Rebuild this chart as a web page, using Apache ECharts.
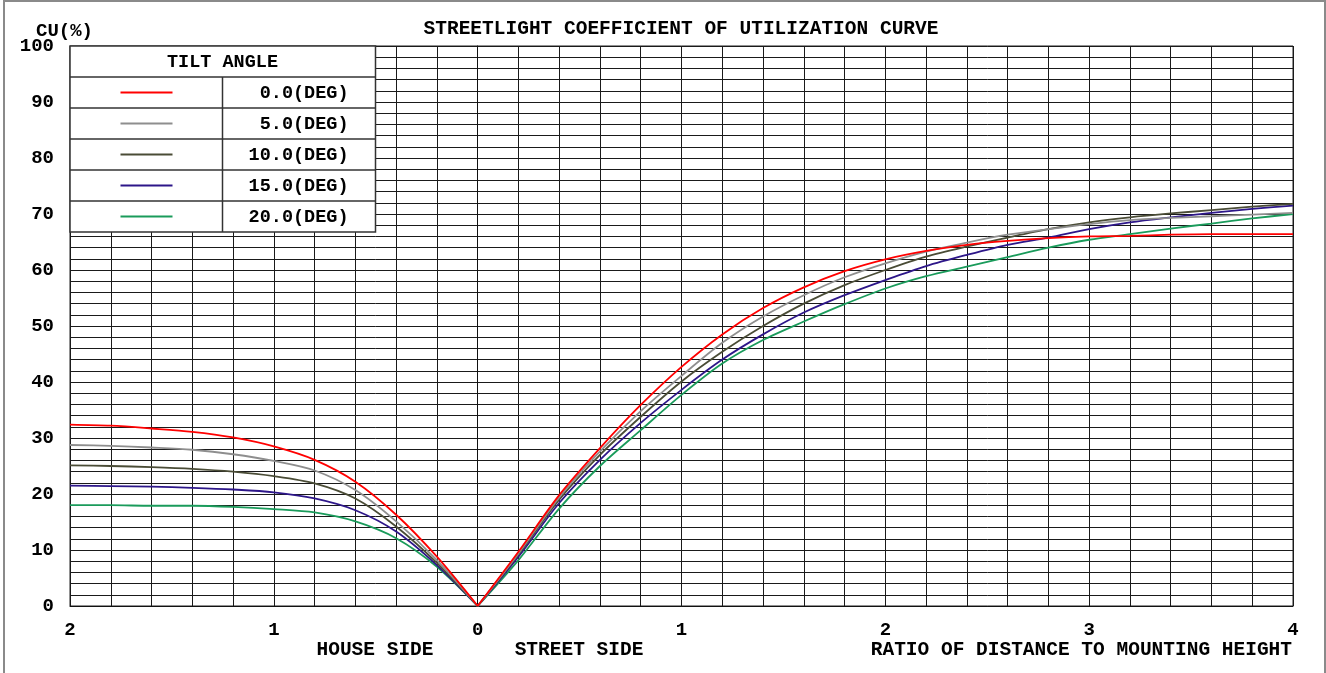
<!DOCTYPE html>
<html>
<head>
<meta charset="utf-8">
<script src="https://cdn.jsdelivr.net/npm/echarts@6/dist/echarts.min.js"></script>
<style>
html,body{margin:0;padding:0;background:#fff;}
#chart{width:1326px;height:673px;}
</style>
</head>
<body>
<div id="chart"></div>
<script>
// Ratio of distance to mounting height (negative = house side)
var xValues = [-2,-1.8,-1.6,-1.4,-1.2,-1.0,-0.8,-0.6,-0.4,-0.2,0,0.2,0.4,0.6,0.8,1.0,1.2,1.4,1.6,1.8,2.0,2.2,2.4,2.6,2.8,3.0,3.2,3.4,3.6,3.8,4.0];
var tilt0  = [32.4,32.2,31.7,31.1,30.1,28.5,26.1,22.2,16.3,8.8,0, 9.7,19.8,28.2,35.9,42.7,48.5,53.2,56.9,59.8,61.9,63.4,64.5,65.2,65.7,66.0,66.1,66.3,66.4,66.4,66.4];
var tilt5  = [28.75,28.6,28.3,27.9,27.1,25.9,24.2,20.7,15.1,8.2,0, 9.4,19.4,27.6,34.8,41.1,47.0,51.7,55.5,58.7,61.2,63.3,64.9,66.3,67.3,68.2,68.9,69.3,69.6,69.9,70.2];
var tilt10 = [25.1,25.0,24.8,24.5,24.0,23.2,21.9,19.2,14.2,7.7,0, 9.2,19.0,27.0,33.8,40.1,45.4,50.0,54.0,57.3,60.0,62.4,64.2,65.8,67.3,68.5,69.4,70.1,70.7,71.3,71.8];
var tilt15 = [21.5,21.4,21.3,21.1,20.8,20.3,19.2,17.1,13.3,7.3,0, 8.8,18.4,26.1,32.7,38.6,44.0,48.5,52.4,55.5,58.2,60.7,62.7,64.5,65.8,67.3,68.5,69.4,70.2,70.9,71.5];
var tilt20 = [18.0,18.0,17.9,17.9,17.7,17.3,16.7,15.1,12.1,7.0,0, 8.2,17.4,25.0,31.4,37.7,43.3,47.5,50.8,53.9,56.7,58.9,60.6,62.3,64.0,65.4,66.4,67.4,68.3,69.2,70.0];
var seriesNames = ['0.0(DEG)','5.0(DEG)','10.0(DEG)','15.0(DEG)','20.0(DEG)'];
var seriesData = [tilt0, tilt5, tilt10, tilt15, tilt20];
var seriesColors = ['#ff0000','#8e8e8e','#4a4c36','#2d1689','#1a9b5b'];
var titleText = 'STREETLIGHT COEFFICIENT OF UTILIZATION CURVE';
var yName = 'CU(%)';
var legendTitle = 'TILT ANGLE';
var houseLabel = 'HOUSE SIDE';
var streetLabel = 'STREET SIDE';
var xName = 'RATIO OF DISTANCE TO MOUNTING HEIGHT';

(function(){
var FONT = "'Liberation Mono','Courier New',monospace";
var chart = echarts.init(document.getElementById('chart'));

function isInt(v){ return Math.abs(v - Math.round(v)) < 1e-6; }
function part(ys, house){
  var out = [];
  xValues.forEach(function(x,i){
    if ((house && x <= 0) || (!house && x >= 0)) out.push([x, ys[i]]);
  });
  return out;
}

var series = [];
seriesData.forEach(function(d,i){
  [true,false].forEach(function(house){
    series.push({
      name: seriesNames[i], type:'line', data: part(d, house),
      showSymbol:false, smooth:0.3,
      lineStyle:{color:seriesColors[i], width:1.8},
      itemStyle:{color:seriesColors[i]}, z: 7 - i, animation:false
    });
  });
});

// legend table
var LX = 70, LW = 305.5, LT = 46, HH = 31, RH = 31, CX = 222.5;
var graphics = [];
graphics.push({type:'rect', shape:{x:4,y:1,width:1321,height:690}, style:{fill:null, stroke:'#8a8a8a', lineWidth:2}, z:1});
graphics.push({type:'rect', shape:{x:LX,y:LT,width:LW,height:HH+RH*5}, style:{fill:'#fff', stroke:'#333', lineWidth:1.5}, z:100});
graphics.push({type:'text', x:CX, y:LT+HH/2+1, style:{text:legendTitle, font:'bold 18.5px '+FONT, fill:'#000', align:'center', verticalAlign:'middle'}, z:101});
for (var i=0;i<5;i++){
  var rowTop = LT+HH+RH*i;
  graphics.push({type:'line', shape:{x1:LX,y1:rowTop,x2:LX+LW,y2:rowTop}, style:{stroke:'#333', lineWidth:1.5}, z:101});
  graphics.push({type:'line', shape:{x1:120.5,y1:rowTop+RH/2,x2:172.5,y2:rowTop+RH/2}, style:{stroke:seriesColors[i], lineWidth:1.8}, z:101});
  graphics.push({type:'text', x:348.5, y:rowTop+RH/2+1, style:{text:seriesNames[i], font:'bold 18.5px '+FONT, fill:'#000', align:'right', verticalAlign:'middle'}, z:101});
}
graphics.push({type:'line', shape:{x1:CX,y1:LT+HH,x2:CX,y2:LT+HH+RH*5}, style:{stroke:'#333', lineWidth:1.5}, z:101});
// texts
graphics.push({type:'text', x:681, y:29, style:{text:titleText, font:'bold 19.5px '+FONT, fill:'#000', align:'center', verticalAlign:'middle'}, z:101});
graphics.push({type:'text', x:36, y:31, style:{text:yName, font:'bold 19px '+FONT, fill:'#000', align:'left', verticalAlign:'middle'}, z:101});
graphics.push({type:'text', x:375, y:650, style:{text:houseLabel, font:'bold 19.5px '+FONT, fill:'#000', align:'center', verticalAlign:'middle'}, z:101});
graphics.push({type:'text', x:579, y:650, style:{text:streetLabel, font:'bold 19.5px '+FONT, fill:'#000', align:'center', verticalAlign:'middle'}, z:101});
graphics.push({type:'text', x:1292, y:650, style:{text:xName, font:'bold 19.5px '+FONT, fill:'#000', align:'right', verticalAlign:'middle'}, z:101});

chart.setOption({
  animation:false,
  backgroundColor:'#fff',
  grid:{left:70, right:33, top:46, bottom:67, show:true, borderColor:'#222', borderWidth:1},
  xAxis:{
    type:'value', min:-2, max:4, interval:0.2,
    axisLine:{show:true, lineStyle:{color:'#111', width:1}},
    axisTick:{show:false},
    splitLine:{show:true, showMinLine:true, showMaxLine:true, lineStyle:{color:'#1a1a1a', width:1}},
    axisLabel:{margin:15, fontFamily:FONT, fontWeight:'bold', fontSize:19, color:'#000',
      formatter:function(v){ return isInt(v) ? String(Math.abs(Math.round(v))) : ''; }}
  },
  yAxis:{
    type:'value', min:0, max:100, interval:2,
    axisLine:{show:true, lineStyle:{color:'#111', width:1}},
    axisTick:{show:false},
    splitLine:{show:true, lineStyle:{color:'#1a1a1a', width:1}},
    axisLabel:{margin:16, fontFamily:FONT, fontWeight:'bold', fontSize:19, color:'#000',
      formatter:function(v){ return (Math.round(v) % 10 === 0) ? String(Math.round(v)) : ''; }}
  },
  series: series,
  graphic: graphics
});
})();
</script>
</body>
</html>
